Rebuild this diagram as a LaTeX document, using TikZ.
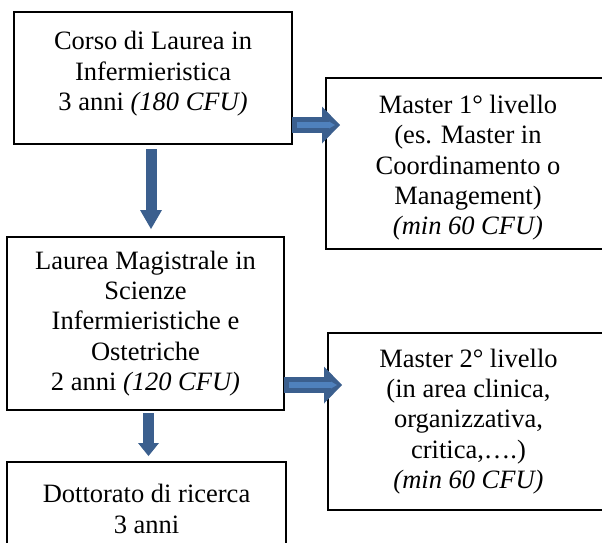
\documentclass[tikz,border=0pt]{standalone}
\usepackage{fontspec}
\setmainfont{Liberation Serif}
\usetikzlibrary{arrows.meta,positioning}
\definecolor{PathDark}{HTML}{3B5F8E}
\definecolor{PathLight}{HTML}{4F81BD}
\tikzset{
  stage/.style={draw=black,line width=1.3pt,outer sep=0pt,inner sep=0pt,align=center,font=\fontsize{26.5}{30.4}\selectfont},
  godown/.style={line width=11pt,draw=PathDark},
  goright/.style={line width=16pt,draw=PathDark,-{Triangle[length=18pt,width=37pt,line width=0pt]}},
  gorightfill/.style={line width=6pt,draw=PathLight,-{Triangle[length=6pt,width=7pt,line width=0pt]}}
}
\begin{document}
\begin{tikzpicture}[x=1pt,y=1pt]
  \useasboundingbox (0,0) rectangle (602,-542);
  \clip (0,0) rectangle (602,-542);
  % left column
  \node[stage,minimum width=278pt,minimum height=132pt] (corso) at (153,-78) {Corso di Laurea in\\Infermieristica\\3 anni \textit{(180 CFU)}\rule[-14pt]{0pt}{1pt}};
  \node[stage,minimum width=277pt,minimum height=173pt,below=93pt of corso,xshift=-7.5pt] (magistrale) {Laurea Magistrale in\\Scienze\\Infermieristiche e\\Ostetriche\\2 anni \textit{(120 CFU)}};
  \node[stage,minimum width=279pt,minimum height=94pt,below=52pt of magistrale,xshift=1pt] (dottorato) {Dottorato di ricerca\\3 anni};
  % masters on the right
  \node[stage,minimum width=284pt,minimum height=171pt,right=34pt of corso,yshift=-85.5pt] (master1) {\rule{0pt}{27pt}Master 1° livello\\(es. Master in\\Coordinamento o\\Management)\\\textit{(min 60 CFU)}};
  \node[stage,minimum width=281pt,minimum height=177pt,right=44pt of magistrale,yshift=-98pt] (master2) {Master 2° livello\\(in area clinica,\\organizzativa,\\critica,….)\\\textit{(min 60 CFU)}};
  % arrows
  \draw[godown,-{Triangle[length=19pt,width=22pt,line width=0pt]},shorten <=5pt,shorten >=8pt] ([xshift=-2pt]corso.south) -- ([xshift=5.5pt]magistrale.north);
  \draw[godown,-{Triangle[length=13pt,width=21pt,line width=0pt]},shorten <=3pt,shorten >=6pt] ([xshift=3pt]magistrale.south) -- ([xshift=2pt]dottorato.north);
  \draw[goright,shorten >=-14pt] ([yshift=-47pt]corso.east) -- ([yshift=38.5pt]master1.west);
  \draw[gorightfill,shorten <=5pt,shorten >=-9pt] ([yshift=-47pt]corso.east) -- ([yshift=38.5pt]master1.west);
  \draw[goright,shorten >=-14pt] ([yshift=-61.5pt]magistrale.east) -- ([yshift=36.5pt]master2.west);
  \draw[gorightfill,shorten <=5pt,shorten >=-9pt] ([yshift=-61.5pt]magistrale.east) -- ([yshift=36.5pt]master2.west);
\end{tikzpicture}
\end{document}
